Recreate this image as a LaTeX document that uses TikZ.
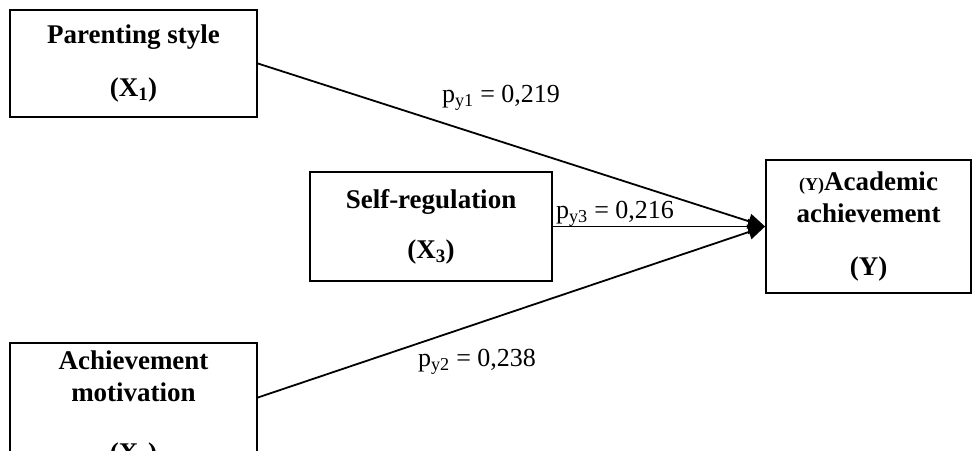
\documentclass[tikz,border=0pt]{standalone}
\usepackage{fontspec}
\setmainfont{Liberation Serif}
\usetikzlibrary{positioning,arrows.meta}

\begin{document}
\begin{tikzpicture}[
  x=1pt,y=-1pt,
  box/.style={rectangle,draw,line width=1.8pt,align=center,inner sep=0pt,
    font=\fontsize{27}{32}\selectfont\bfseries},
  coef/.style={inner sep=1pt,font=\fontsize{26}{31}\selectfont},
  link/.style={line width=1.8pt,-{Triangle[length=17pt,width=15pt]}}
]
  \clip (0,0) rectangle (972,450);

  \node[box,minimum width=247pt,minimum height=107pt] (x1) at (133.5,63.5)
    {Parenting style\\[21pt](X\textsubscript{1})};
  \node[box,minimum width=242pt,minimum height=109pt] (x3) at (431,226.5)
    {Self-regulation\\[18pt](X\textsubscript{3})};
  \node[box,minimum width=247pt,minimum height=133pt] (x2) at (133.5,409.5)
    {Achievement\\motivation\\[28pt](X\textsubscript{2})};
  \node[box,minimum width=205pt,minimum height=133pt] (y) at (868.5,226.5)
    {{\fontsize{18}{32}\selectfont (Y)}Academic\\achievement\\[21pt](Y)};

  \draw[link] (x1.east) -- (y.west);
  \draw[link] (x3.east) -- (y.west);
  \draw[link] ([yshift=12pt]x2.east) -- (y.west);

  \node[coef] (c1) at (501,98) {p\textsubscript{y1} = 0,219};
  \node[coef] (c3) at (615,214) {p\textsubscript{y3} = 0,216};
  \node[coef] (c2) at (477,362) {p\textsubscript{y2} = 0,238};
\end{tikzpicture}
\end{document}
